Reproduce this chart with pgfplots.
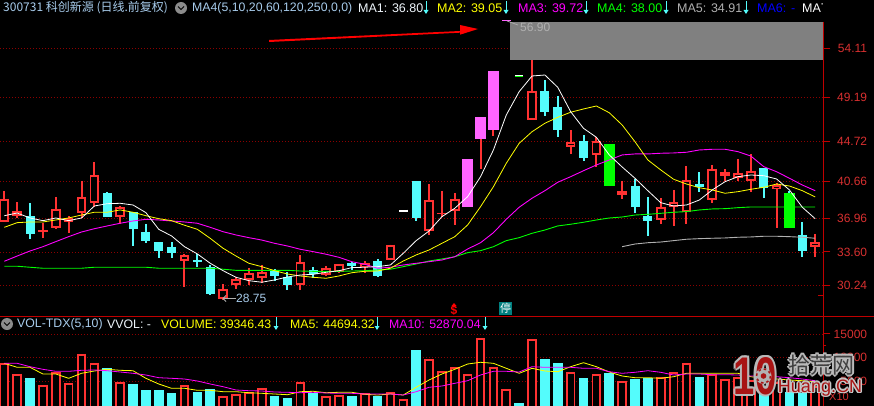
\documentclass[border=0pt]{standalone}
\usepackage{fontspec}
\usepackage{pgfplots}
\usepackage{pgfplotstable}
\pgfplotsset{compat=1.18}
\setmainfont{Liberation Sans}
\newfontfamily\cjk{Noto Sans CJK SC}
\definecolor{cred}{HTML}{FF3232}
\definecolor{ccyan}{HTML}{54FCFC}
\definecolor{cmag}{HTML}{FF64FF}
\definecolor{cgreen}{HTML}{00FF00}
\definecolor{cyel}{HTML}{FFFF00}
\definecolor{lmag}{HTML}{FF00FF}
\definecolor{lgrey}{HTML}{B0B0B0}
\definecolor{axisred}{HTML}{C00000}
\definecolor{ticktxt}{HTML}{D83030}
\definecolor{headblue}{HTML}{A8CCEC}
\definecolor{griddot}{HTML}{8C0000}
\definecolor{wmred}{HTML}{A81414}

% candles: k low high bot top
\pgfplotstableread{
k low high bot top
0 36.62 39.74 36.65 38.96
1 37.00 38.63 37.25 37.70
3 35.01 36.55 35.64 35.81
4 35.94 39.14 36.04 37.96
5 35.51 37.22 36.65 37.02
6 37.02 40.75 37.53 39.17
7 38.16 42.66 38.50 41.32
9 36.42 38.23 37.15 38.10
14 30.07 33.40 32.72 33.26
17 28.75 30.34 28.89 29.84
18 29.87 31.08 30.31 30.85
19 30.27 31.99 30.78 31.45
20 30.48 32.26 31.01 31.58
23 29.77 33.30 30.24 32.62
25 31.18 32.19 31.28 32.02
26 31.48 32.39 31.55 32.39
28 31.48 32.66 32.06 32.49
30 32.76 34.33 32.76 34.33
33 35.31 40.44 35.74 38.80
34 37.15 39.74 37.42 37.56
35 36.32 39.51 37.76 38.96
41 46.92 55.50 46.92 49.84
44 43.47 45.88 44.17 44.64
46 42.16 45.18 43.37 44.77
48 38.94 40.75 39.34 39.74
51 36.42 39.01 36.82 38.16
52 36.22 39.84 38.10 38.60
53 36.42 42.26 37.66 40.88
55 38.53 42.36 38.83 41.99
56 40.75 41.96 41.25 41.65
57 40.75 42.96 41.08 41.58
58 39.64 43.47 40.75 41.78
60 36.01 40.55 39.91 40.35
63 33.09 35.41 34.07 34.58
}\upcandles
\pgfplotstableread{
k low high bot top
2 34.91 38.53 35.41 37.22
8 37.09 39.64 37.09 39.54
10 34.20 37.63 35.91 37.60
11 34.50 36.42 34.71 35.61
12 32.99 34.60 33.70 34.60
13 32.99 34.60 33.50 34.10
15 32.09 33.40 32.62 32.79
16 29.27 32.29 29.37 32.09
21 30.71 31.89 31.18 31.79
22 29.77 31.58 30.27 31.05
24 30.98 32.09 31.38 31.79
27 31.79 32.59 32.19 32.52
29 31.08 32.89 31.18 32.69
32 36.72 40.75 37.02 40.75
42 47.29 50.92 47.70 49.81
43 45.18 49.31 45.88 48.20
45 42.76 45.38 43.06 44.77
49 37.53 40.95 38.13 40.24
50 35.21 39.14 36.72 37.22
54 39.64 41.65 40.11 40.44
59 39.04 42.06 40.04 42.06
62 33.09 36.62 33.70 35.31
}\downcandles
\pgfplotstableread{
k low high bot top
36 38.13 42.93 38.13 42.93
37 41.96 47.16 44.98 47.16
38 45.28 51.79 45.88 51.79
}\limitup
\pgfplotstableread{
k low high bot top
47 40.24 44.47 40.24 44.47
61 36.01 39.74 36.01 39.54
}\limitdown

% one price days
\pgfplotstableread{
k bot top
31 37.66 37.86
40 51.30 51.39
}\flatwhite
\pgfplotstableread{
k bot top
40 51.19 51.30
}\flatgreen
\pgfplotstableread{
k bot top
39 56.84 56.95
}\flatpink

% moving averages
\pgfplotstableread{
k ma1 ma2 ma3 ma4
0 37.25 36.08 32.66 32.16
1 37.52 36.55 33.19 32.16
2 37.02 36.62 33.70 32.06
3 36.75 36.62 34.13 31.96
4 37.02 36.82 34.64 31.96
5 36.75 37.02 35.14 31.96
6 37.02 37.32 35.61 31.96
7 38.23 37.60 35.94 32.06
8 38.46 37.60 36.22 32.06
9 38.50 37.83 36.49 32.06
10 38.33 37.60 36.72 32.06
11 37.56 37.25 36.89 32.06
12 35.88 36.95 36.82 31.96
13 35.21 36.75 36.72 31.96
14 34.13 36.29 36.62 31.96
15 33.40 35.88 36.49 31.96
16 32.46 34.97 36.08 31.96
17 31.71 33.97 35.64 31.86
18 31.05 33.19 35.31 31.75
19 30.71 32.46 35.04 31.75
20 30.55 32.12 34.80 31.75
21 30.78 31.71 34.47 31.75
22 31.08 31.38 34.20 31.75
23 31.28 31.18 33.87 31.68
24 31.35 31.05 33.63 31.65
25 31.55 30.95 33.37 31.65
26 31.71 31.18 33.06 31.65
27 32.02 31.51 32.62 31.68
28 32.06 31.65 32.36 31.71
29 32.12 31.68 31.96 31.79
30 32.29 31.96 32.06 31.86
31 33.47 32.69 32.29 32.12
32 34.74 33.30 32.46 32.39
33 35.71 33.80 32.62 32.69
34 37.15 34.47 32.79 32.89
35 38.00 35.14 33.12 33.12
36 39.17 36.32 33.90 33.53
37 41.18 38.16 34.53 33.73
38 43.87 40.17 35.54 34.13
39 47.39 42.53 36.89 34.74
40 49.74 44.54 38.10 35.04
41 51.32 45.71 39.01 35.48
42 51.42 46.56 39.77 35.81
43 50.18 47.16 40.62 36.22
44 47.73 47.67 41.18 36.39
45 46.05 48.00 41.78 36.59
46 45.15 48.30 42.36 36.82
47 43.37 47.62 42.86 37.02
48 42.16 46.39 43.37 37.12
49 41.02 44.70 43.47 37.32
50 39.77 42.86 43.47 37.39
51 38.56 41.86 43.54 37.49
52 38.23 40.92 43.57 37.60
53 38.33 40.44 43.64 37.66
54 38.83 40.07 43.87 37.83
55 39.84 39.84 43.94 37.93
56 40.68 39.51 43.94 37.96
57 41.18 39.67 43.70 38.06
58 41.35 39.91 43.26 38.13
59 41.28 40.11 42.19 38.13
60 40.95 40.44 41.68 38.13
61 39.84 40.24 41.02 38.13
62 38.10 39.77 40.34 38.13
63 36.95 39.14 39.77 38.13
}\mas
\pgfplotstableread{
k ma5
48 34.13
49 34.40
50 34.53
51 34.60
52 34.74
53 34.88
54 34.94
55 34.98
56 35.01
57 35.08
58 35.11
59 35.18
60 35.18
61 35.14
62 35.08
63 34.98
}\maslow

% volume
\pgfplotstableread{
k v
0 8925
1 6604
3 4283
4 7026
5 4705
6 10824
7 8925
9 4916
14 4220
17 1899
18 2321
19 2743
20 3650
23 4916
25 1899
26 2173
28 2532
30 2743
31 1266
33 9706
34 7174
35 8018
36 6541
37 14074
38 8018
39 3376
41 13926
44 6963
46 6541
48 5127
51 5971
52 6963
53 8925
55 6541
56 5423
57 6000
58 5200
60 4800
63 3934
}\volup
\pgfplotstableread{
k v
2 5697
8 7744
10 4431
11 3165
12 3165
13 2532
15 2743
16 3376
21 1899
22 1477
24 2532
27 1899
29 2005
32 11605
40 422
42 9706
43 8862
45 5697
47 6689
49 5486
50 5697
54 5845
59 3000
61 2700
62 2500
}\voldown
\pgfplotstableread{
k v5 v10
0 8799 8799
1 7955 8799
2 7955 8081
3 6541 7533
4 6541 7111
5 5634 7111
6 6689 7322
7 7174 7385
8 7533 7237
9 7322 6963
10 7237 6689
11 5634 6330
12 4431 5760
13 3524 5634
14 3524 5486
15 3102 5064
16 3102 4431
17 2806 3861
18 2806 3165
19 2595 3017
20 2469 2954
21 2321 2743
22 2173 2680
23 2806 2595
24 2891 2680
25 2595 2532
26 2680 2469
27 2680 2469
28 2258 2321
29 2110 2321
30 2321 2321
31 2110 2110
32 3735 2806
33 5275 3735
34 6541 4009
35 7533 4579
36 8651 5127
37 9010 6330
38 8799 7111
39 7744 7111
40 6689 6963
41 7744 8081
42 7174 7955
43 7026 7955
44 8081 7955
45 8925 7744
46 8081 7744
47 6963 7026
48 6119 6689
49 5760 6900
50 5760 7237
51 5634 6900
52 5971 6330
53 6689 6541
54 6689 6541
55 6689 6393
56 6689 6393
57 6689 6330
58 5971 6119
59 5634 6056
60 5486 5971
61 5275 5760
62 5127 5486
63 4916 5127
}\volma

% bar from column top down to column bot, #1 table #2 colour #3 width
\newcommand{\barsfrom}[5]{%
\addplot[draw=none,forget plot,error bars/.cd,y dir=minus,y explicit,error mark=none,
  error bar style={draw=#2,solid,line width=#3}]
  table[x=k,y=#4,y error minus expr=\thisrow{#4}-\thisrow{#5}] {#1};}
% black inside of an up candle
\newcommand{\hollow}[1]{%
\addplot[draw=none,forget plot,error bars/.cd,y dir=minus,y explicit,error mark=none,
  error bar style={draw=black,solid,line width=5.8pt}]
  table[x=k,y expr=\thisrow{top}-0.2,y error minus expr={max(\thisrow{top}-\thisrow{bot}-0.4,0)}] {#1};}
\newcommand{\volbars}[2]{%
\addplot[draw=none,forget plot,error bars/.cd,y dir=minus,y explicit,error mark=none,
  error bar style={draw=#2,solid,line width=9.6pt}]
  table[x=k,y=v,y error minus expr=\thisrow{v}+600] {#1};}

\newcommand{\hd}[4]{\node[anchor=west,inner sep=0pt,text=#3,font=\fontsize{#4}{14}\selectfont] at (#1,8) {#2};}
\newcommand{\hdv}[3]{\node[anchor=west,inner sep=0pt,text=#3,font=\fontsize{12.3}{14}\selectfont] at (#1,324) {#2};}
\newcommand{\dnarrow}[2]{%
\draw[ccyan,line width=1pt] (#1,#2-7)--(#1,#2+3);
\fill[ccyan] (#1-2.5,#2+2)--(#1+2.5,#2+2)--(#1,#2+6)--cycle;}
% text with a halo: x y font halocolour radius text
\newcommand{\halo}[6]{\foreach \a in {0,45,...,315}{\node[inner sep=0pt,text=#4,font=#3,shift={(\a:#5)}] at (#1,#2) {#6};}}

\pgfplotsset{
  panel/.style={
    scale only axis,width=823.3pt,
    xmin=-0.334,xmax=63.63,
    axis x line=none,axis y line=right,
    y axis line style={draw=none},
    clip=true,
    ymajorgrids,
    grid style={griddot,line width=0.7pt,dash pattern=on 1pt off 2pt},
    tick style={axisred,line width=1pt},
    major tick length=7pt,tick align=outside,
    /pgf/number format/assume math mode=true,
  },
}

\begin{document}
\begin{tikzpicture}
\path[use as bounding box,fill=black] (0,0) rectangle (874pt,-406pt);

% price panel
\begin{axis}[panel,at={(0pt,-316pt)},anchor=south west,height=298pt,
  ymin=27.15,ymax=57.16,
  ytick={30.24,33.60,36.96,40.66,44.72,49.19,54.11},
  yticklabel style={text=ticktxt,font=\fontsize{12}{14}\selectfont,anchor=east,xshift=37pt,inner sep=0pt,
    /pgf/number format/fixed,/pgf/number format/fixed zerofill,/pgf/number format/precision=2}]
\barsfrom{\upcandles}{cred}{2pt}{high}{low}
\barsfrom{\upcandles}{cred}{9.6pt}{top}{bot}
\hollow{\upcandles}
\barsfrom{\downcandles}{ccyan}{2pt}{high}{low}
\barsfrom{\downcandles}{ccyan}{9pt}{top}{bot}
\barsfrom{\limitup}{cred}{2pt}{high}{low}
\barsfrom{\limitup}{cmag}{11pt}{top}{bot}
\barsfrom{\limitdown}{ccyan}{2pt}{high}{low}
\barsfrom{\limitdown}{cgreen}{11pt}{top}{bot}
\barsfrom{\flatwhite}{white}{8.5pt}{top}{bot}
\barsfrom{\flatgreen}{cgreen}{8.5pt}{top}{bot}
\barsfrom{\flatpink}{cmag}{8.5pt}{top}{bot}
\addplot[cgreen,line width=0.9pt] table[x=k,y=ma4] {\mas};
\addplot[lmag,line width=0.9pt] table[x=k,y=ma3] {\mas};
\addplot[lgrey,line width=0.9pt] table[x=k,y=ma5] {\maslow};
\addplot[cyel,line width=0.8pt] table[x=k,y=ma2] {\mas};
\addplot[white,line width=0.8pt] table[x=k,y=ma1] {\mas};
\end{axis}

% volume panel
\begin{axis}[panel,at={(0pt,-406pt)},anchor=south west,height=90pt,
  ymin=-211,ymax=18779,
  ytick={5000,10000,15000},
  minor ytick={12500},minor tick length=3pt,
  scaled y ticks=false,
  yticklabel style={text=ticktxt,font=\fontsize{12}{14}\selectfont,anchor=east,xshift=37pt,inner sep=0pt,
    /pgf/number format/fixed,/pgf/number format/1000 sep={}}]
\volbars{\volup}{cred}
\addplot[draw=none,forget plot,error bars/.cd,y dir=minus,y explicit,error mark=none,
  error bar style={draw=black,solid,line width=5.8pt}]
  table[x=k,y expr=\thisrow{v}-420,y error minus expr=\thisrow{v}+600] {\volup};
\volbars{\voldown}{ccyan}
\addplot[cyel,line width=0.8pt] table[x=k,y=v5] {\volma};
\addplot[lmag,line width=0.8pt] table[x=k,y=v10] {\volma};
\end{axis}

\begin{scope}[x=1pt,y=-1pt]
% frame lines
\draw[axisred,line width=1.2pt] (823.3,22)--(823.3,406);
\draw[axisred,line width=1.4pt] (0,316.3)--(874,316.3);
\draw[axisred,line width=1pt] (818,295)--(823.3,295);

% high marker zone
\fill[black!50] (510,22) rectangle (823,60);
\draw[lgrey,line width=0.7pt] (507,21)--(518,25);
\node[anchor=west,inner sep=0pt,text=lgrey,font=\fontsize{12}{14}\selectfont] at (520,27.5) {56.90};
\draw[lgrey,line width=0.8pt] (236,298.5)--(223,298.5);
\draw[lgrey,line width=0.8pt] (226,295.5)--(223,298.5)--(226,301.5);
\node[anchor=west,inner sep=0pt,text=headblue,font=\fontsize{12}{14}\selectfont] at (236,298) {28.75};

% red hand drawn arrow
\fill[red] (269,40)--(269,42)--(460,32.7)--(460,34.7)--(478,29)--(460,25)--(460,31)--cycle;

% header line
\hd{3}{\cjk 300731 科创新源 (日线.前复权)}{headblue}{12}
\fill[black!45] (181,8) circle (6);
\draw[black,line width=1pt] (178,6.5)--(181,9.5)--(184,6.5);
\hd{192}{MA4(5,10,20,60,120,250,0,0)}{headblue}{12.3}
\hd{358}{MA1: 36.80}{white!80!headblue}{12.5}\dnarrow{426}{8}
\hd{437}{MA2: 39.05}{cyel}{12.5}\dnarrow{506}{8}
\hd{518}{MA3: 39.72}{lmag}{12.5}\dnarrow{586}{8}
\hd{597}{MA4: 38.00}{cgreen}{12.5}\dnarrow{666}{8}
\hd{677}{MA5: 34.91}{lgrey}{12.5}\dnarrow{746}{8}
\hd{757}{MA6: -}{blue}{12.5}
\hd{802}{MA7}{white}{12.5}
\fill[black] (823,0) rectangle (874,20);

% volume header
\fill[black!45] (7,324) circle (6);
\draw[black,line width=1pt] (4,322.5)--(7,325.5)--(10,322.5);
\hdv{17}{VOL-TDX(5,10)}{headblue}
\hdv{107}{VVOL: -}{white!80!headblue}
\hdv{161}{VOLUME: 39346.43}{cyel}\dnarrow{276}{324}
\hdv{290}{MA5: 44694.32}{cyel}\dnarrow{377}{324}
\hdv{389}{MA10: 52870.04}{lmag}\dnarrow{485}{324}

% event marks above the volume panel
\node[inner sep=0pt,text=red,font=\bfseries\fontsize{12}{14}\selectfont] at (454,310.5) {\$};
\fill[red] (451.5,306)--(456.5,306)--(454,303)--cycle;
\fill[teal] (499,302) rectangle (512,315);
\node[inner sep=0pt,text=white,font=\cjk\fontsize{11}{12}\selectfont] at (505.5,308.5) {停};
\node[anchor=west,inner sep=0pt,text=ticktxt,font=\fontsize{11}{12}\selectfont] at (829,397) {X10};

% watermark
\halo{755}{376}{\bfseries\fontsize{53}{53}\selectfont}{black!28}{2.2}{\scalebox{.72}[1]{10}}
\node[inner sep=0pt,text=wmred,font=\bfseries\fontsize{53}{53}\selectfont] at (755,376) {\scalebox{.72}[1]{10}};
\fill[black!30] (763.5,376) circle (8);
\fill[wmred] (763.5,376) circle (2.8);
\draw[wmred,line width=1.6pt,dash pattern=on 2.5pt off 3pt] (763.5,376) circle (7);
\halo{821.5}{365}{\cjk\fontsize{22}{24}\selectfont}{black!27}{2}{拾荒网}
\node[inner sep=0pt,text=black!75,font=\cjk\fontsize{22}{24}\selectfont] at (821.5,365) {拾荒网};
\halo{820}{388}{\fontsize{18}{20}\selectfont}{black!22}{1.5}{Huang.CN}
\node[inner sep=0pt,text=wmred,font=\fontsize{18}{20}\selectfont] at (820,388) {Huang.CN};
\end{scope}
\end{tikzpicture}
\end{document}
